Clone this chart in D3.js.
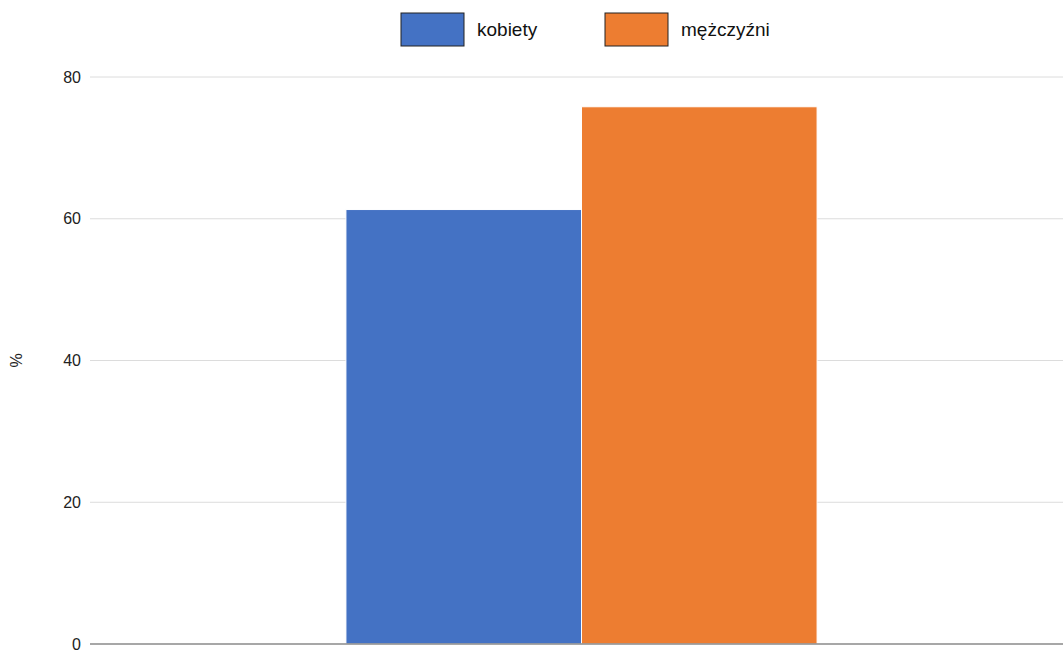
<!DOCTYPE html>
<html>
<head>
<meta charset="utf-8">
<script src="https://cdn.jsdelivr.net/npm/d3@7"></script>
<style>
  body { margin: 0; background: #fff; }
  text { font-family: 'Liberation Sans', Arial, sans-serif; }
</style>
</head>
<body>
<div id="chart"></div>
<script>
// Data
const categories = ['']
const seriesNames = ['kobiety', 'mężczyźni']
const seriesValues = [[61.3], [75.8]]
const colors = ['#4472C4', '#ED7D31']
const yTicks = [0, 20, 40, 60, 80]

// Dimensions
const width = 1063
const height = 651
const margin = { top: 77, right: -10, bottom: 7, left: 90 }
const ctrWidth = width - margin.left - margin.right
const ctrHeight = height - margin.top - margin.bottom

const svg = d3
  .select('#chart')
  .append('svg')
  .attr('width', width)
  .attr('height', height)

const ctr = svg
  .append('g')
  .attr('transform', `translate(${margin.left}, ${margin.top})`)

// Scales
const yScale = d3.scaleLinear().domain([0, 80]).range([ctrHeight, 0])

const xScale = d3
  .scaleBand()
  .domain(categories)
  .range([0, ctrWidth])
  .padding(0.352)

const subScale = d3
  .scaleBand()
  .domain(seriesNames)
  .range([0, xScale.bandwidth()])

// Grid
ctr
  .append('g')
  .selectAll('line')
  .data(yTicks.filter((d) => d > 0))
  .join('line')
  .attr('x1', 0)
  .attr('x2', ctrWidth)
  .attr('y1', (d) => yScale(d))
  .attr('y2', (d) => yScale(d))
  .attr('stroke', '#dcdcdc')
  .attr('stroke-width', 1)

// Y labels
const yAxis = d3.axisLeft(yScale).tickValues(yTicks).tickSize(0).tickPadding(9)
ctr
  .append('g')
  .call(yAxis)
  .call((g) => g.select('.domain').remove())
  .selectAll('text')
  .attr('font-size', 16)
  .attr('fill', '#222')

svg
  .append('text')
  .attr('transform', `translate(22, ${margin.top + ctrHeight * 0.5}) rotate(-90)`)
  .attr('text-anchor', 'middle')
  .attr('font-size', 16)
  .attr('fill', '#222')
  .text('%')

// Bars
const groups = ctr
  .selectAll('.group')
  .data(categories)
  .join('g')
  .attr('class', 'group')
  .attr('transform', (d) => `translate(${xScale(d)}, 0)`)

groups
  .selectAll('rect')
  .data((d, i) => seriesNames.map((s, j) => ({ s, v: seriesValues[j][i], c: colors[j] })))
  .join('rect')
  .attr('x', (d) => subScale(d.s))
  .attr('width', subScale.bandwidth())
  .attr('y', (d) => yScale(d.v))
  .attr('height', (d) => ctrHeight - yScale(d.v))
  .attr('fill', (d) => d.c)
  .attr('stroke', '#fff')
  .attr('stroke-width', 1)

// Zero line
ctr
  .append('line')
  .attr('x1', 0)
  .attr('x2', ctrWidth)
  .attr('y1', yScale(0))
  .attr('y2', yScale(0))
  .attr('stroke', '#8a8a8a')
  .attr('stroke-width', 1.5)

// Legend
const legendX = [401, 605]
const legend = svg
  .append('g')
  .selectAll('g')
  .data(seriesNames)
  .join('g')
  .attr('transform', (d, i) => `translate(${legendX[i]}, 13)`)

legend
  .append('rect')
  .attr('width', 63)
  .attr('height', 33)
  .attr('fill', (d, i) => colors[i])
  .attr('stroke', '#222')
  .attr('stroke-width', 1)

legend
  .append('text')
  .attr('x', 76)
  .attr('y', 23)
  .attr('font-size', 19)
  .attr('fill', '#111')
  .text((d) => d)
</script>
</body>
</html>
